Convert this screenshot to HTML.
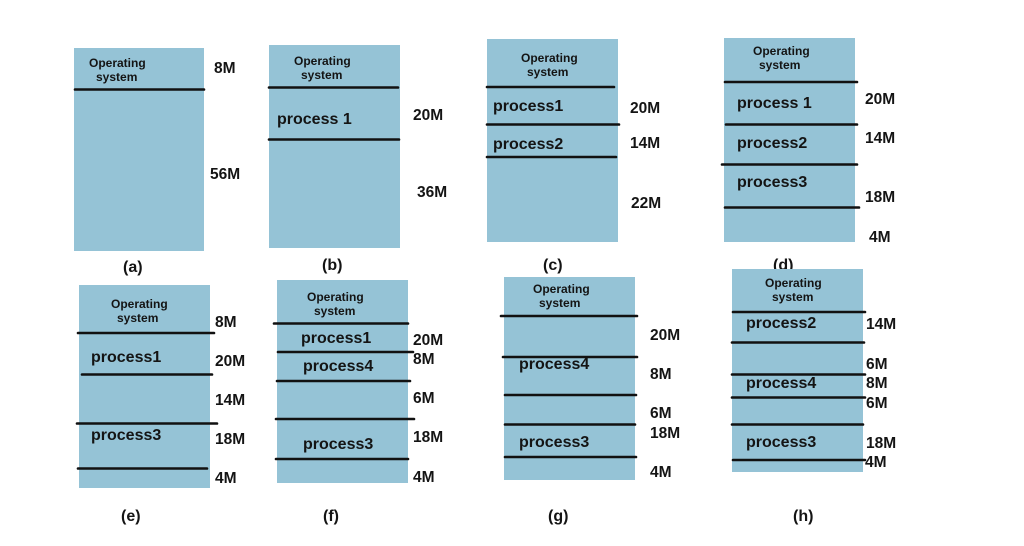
<!DOCTYPE html>
<html>
<head>
<meta charset="utf-8">
<style>
html,body{margin:0;padding:0;background:#fff;}
svg{display:block;}
text{font-family:"Liberation Sans",Arial,sans-serif;font-weight:bold;fill:#141414;}
.os{font-size:12px;}
.p{font-size:16px;}
.m{font-size:15.5px;}
.lb{font-size:16px;}
line{stroke:#111;stroke-width:2.6;stroke-linecap:round;}
rect{fill:#95c3d6;}
</style>
</head>
<body>
<svg width="1024" height="546" viewBox="0 0 1024 546" xmlns="http://www.w3.org/2000/svg">
<!-- (a) -->
<rect x="74" y="48" width="130" height="203"/>
<line x1="75" y1="89.5" x2="204" y2="89.5"/>
<text class="os" x="89" y="67">Operating</text>
<text class="os" x="96" y="81">system</text>
<text class="m" x="214" y="73">8M</text>
<text class="m" x="210" y="179">56M</text>
<text class="lb" x="123" y="272">(a)</text>

<!-- (b) -->
<rect x="269" y="45" width="131" height="203"/>
<line x1="269" y1="87.5" x2="398" y2="87.5"/>
<line x1="269" y1="139.5" x2="399" y2="139.5"/>
<text class="os" x="294" y="65">Operating</text>
<text class="os" x="301" y="79">system</text>
<text class="p" x="277" y="124">process 1</text>
<text class="m" x="413" y="120">20M</text>
<text class="m" x="417" y="197">36M</text>
<text class="lb" x="322" y="270">(b)</text>

<!-- (c) -->
<rect x="487" y="39" width="131" height="203"/>
<line x1="487" y1="87" x2="614" y2="87"/>
<line x1="487" y1="124.5" x2="619" y2="124.5"/>
<line x1="487" y1="157" x2="616" y2="157"/>
<text class="os" x="521" y="62">Operating</text>
<text class="os" x="527" y="76">system</text>
<text class="p" x="493" y="111">process1</text>
<text class="p" x="493" y="149">process2</text>
<text class="m" x="630" y="113">20M</text>
<text class="m" x="630" y="148">14M</text>
<text class="m" x="631" y="208">22M</text>
<text class="lb" x="543" y="270">(c)</text>

<!-- (d) -->
<rect x="724" y="38" width="131" height="204"/>
<line x1="725" y1="82" x2="857" y2="82"/>
<line x1="726" y1="124.5" x2="857" y2="124.5"/>
<line x1="722" y1="164.5" x2="857" y2="164.5"/>
<line x1="725" y1="207.5" x2="859" y2="207.5"/>
<text class="os" x="753" y="55">Operating</text>
<text class="os" x="759" y="69">system</text>
<text class="p" x="737" y="108">process 1</text>
<text class="p" x="737" y="148">process2</text>
<text class="p" x="737" y="187">process3</text>
<text class="m" x="865" y="104">20M</text>
<text class="m" x="865" y="143">14M</text>
<text class="m" x="865" y="202">18M</text>
<text class="m" x="869" y="242">4M</text>
<text class="lb" x="773" y="270">(d)</text>

<!-- (e) -->
<rect x="79" y="285" width="131" height="203"/>
<line x1="78" y1="333" x2="214" y2="333"/>
<line x1="82" y1="374.5" x2="212" y2="374.5"/>
<line x1="77" y1="423.5" x2="217" y2="423.5"/>
<line x1="78" y1="468.5" x2="207" y2="468.5"/>
<text class="os" x="111" y="308">Operating</text>
<text class="os" x="117" y="322">system</text>
<text class="p" x="91" y="362">process1</text>
<text class="p" x="91" y="440">process3</text>
<text class="m" x="215" y="327">8M</text>
<text class="m" x="215" y="366">20M</text>
<text class="m" x="215" y="405">14M</text>
<text class="m" x="215" y="444">18M</text>
<text class="m" x="215" y="483">4M</text>
<text class="lb" x="121" y="521">(e)</text>

<!-- (f) -->
<rect x="277" y="280" width="131" height="203"/>
<line x1="274" y1="323.5" x2="408" y2="323.5"/>
<line x1="278" y1="352" x2="413" y2="352"/>
<line x1="277" y1="381" x2="410" y2="381"/>
<line x1="276" y1="419" x2="414" y2="419"/>
<line x1="276" y1="459" x2="408" y2="459"/>
<text class="os" x="307" y="301">Operating</text>
<text class="os" x="314" y="315">system</text>
<text class="p" x="301" y="343">process1</text>
<text class="p" x="303" y="371">process4</text>
<text class="p" x="303" y="449">process3</text>
<text class="m" x="413" y="345">20M</text>
<text class="m" x="413" y="364">8M</text>
<text class="m" x="413" y="403">6M</text>
<text class="m" x="413" y="442">18M</text>
<text class="m" x="413" y="482">4M</text>
<text class="lb" x="323" y="521">(f)</text>

<!-- (g) -->
<rect x="504" y="277" width="131" height="203"/>
<line x1="501" y1="316" x2="637" y2="316"/>
<line x1="503" y1="357" x2="637" y2="357"/>
<line x1="505" y1="395" x2="636" y2="395"/>
<line x1="505" y1="424.5" x2="635" y2="424.5"/>
<line x1="505" y1="457" x2="636" y2="457"/>
<text class="os" x="533" y="293">Operating</text>
<text class="os" x="539" y="307">system</text>
<text class="p" x="519" y="369">process4</text>
<text class="p" x="519" y="447">process3</text>
<text class="m" x="650" y="340">20M</text>
<text class="m" x="650" y="379">8M</text>
<text class="m" x="650" y="418">6M</text>
<text class="m" x="650" y="438">18M</text>
<text class="m" x="650" y="477">4M</text>
<text class="lb" x="548" y="521">(g)</text>

<!-- (h) -->
<rect x="732" y="269" width="131" height="203"/>
<line x1="733" y1="312" x2="865" y2="312"/>
<line x1="732" y1="342.5" x2="864" y2="342.5"/>
<line x1="732" y1="374.5" x2="865" y2="374.5"/>
<line x1="732" y1="397.5" x2="865" y2="397.5"/>
<line x1="732" y1="424.5" x2="863" y2="424.5"/>
<line x1="733" y1="460" x2="865" y2="460"/>
<text class="os" x="765" y="287">Operating</text>
<text class="os" x="772" y="301">system</text>
<text class="p" x="746" y="328">process2</text>
<text class="p" x="746" y="388">process4</text>
<text class="p" x="746" y="447">process3</text>
<text class="m" x="866" y="329">14M</text>
<text class="m" x="866" y="369">6M</text>
<text class="m" x="866" y="388">8M</text>
<text class="m" x="866" y="408">6M</text>
<text class="m" x="866" y="448">18M</text>
<text class="m" x="865" y="467">4M</text>
<text class="lb" x="793" y="521">(h)</text>
</svg>
</body>
</html>
